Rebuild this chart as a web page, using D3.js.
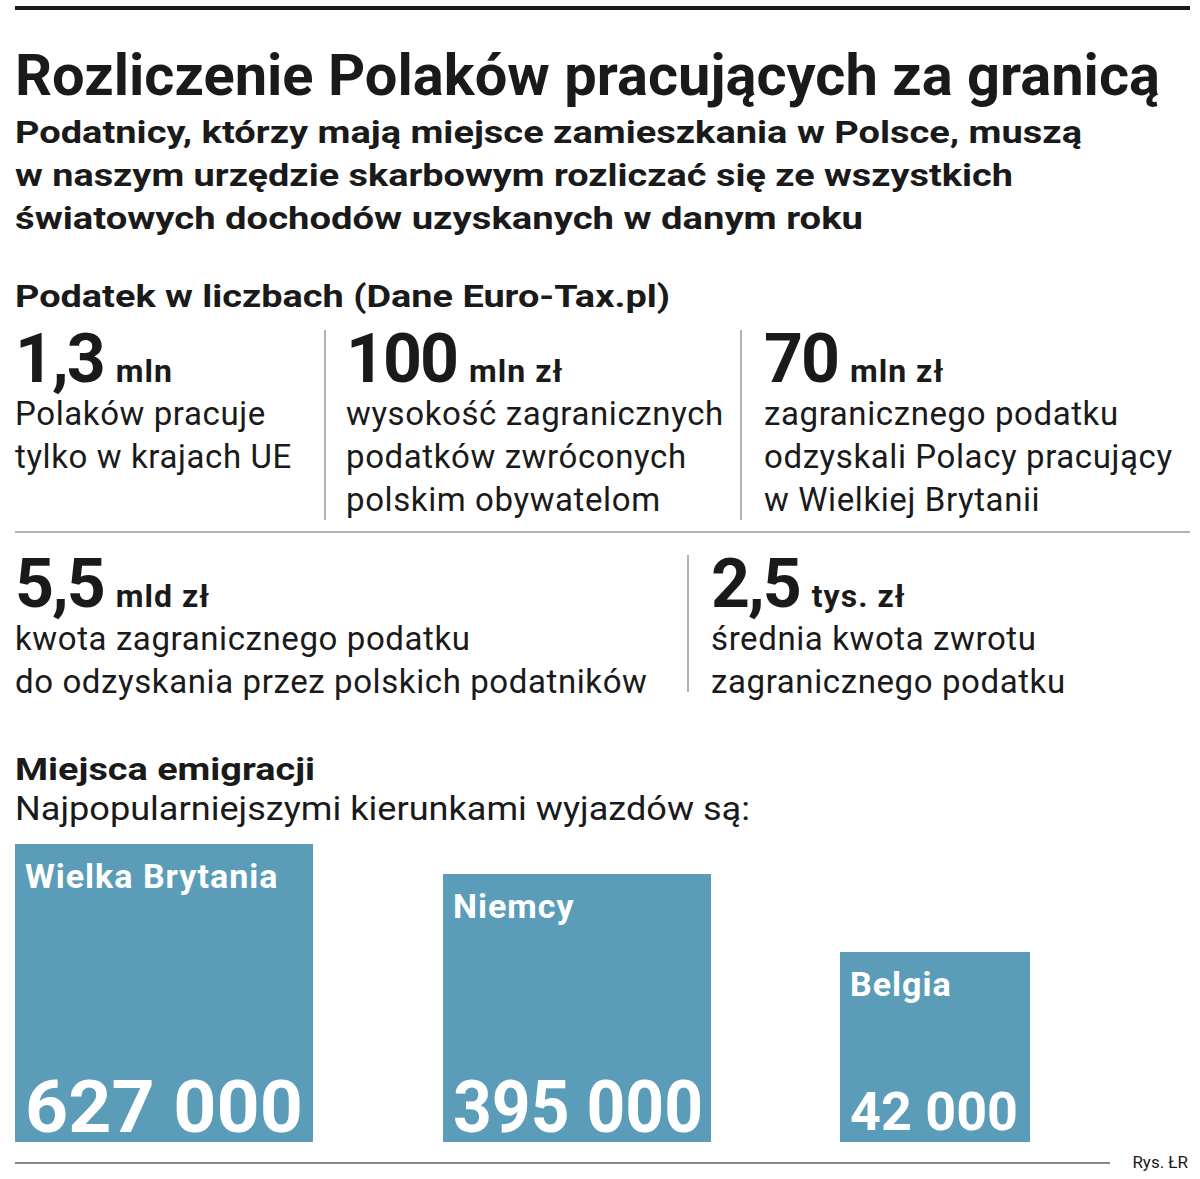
<!DOCTYPE html>
<html><head><meta charset="utf-8">
<script src="https://cdn.jsdelivr.net/npm/d3@7"></script>
<style>body{margin:0;background:#fff}text{font-family:Roboto,"Open Sans",sans-serif}</style>
</head><body><svg id="c" width="1200" height="1179"></svg>
<script>
const countries=["Wielka Brytania","Niemcy","Belgia"];
const emigrants=[627000,395000,42000];
const valueLabels=["627 000","395 000","42 000"];
const statBig=["1,3","100","70","5,5","2,5"];
const statUnit=["mln","mln zł","mln zł","mld zł","tys. zł"];
const statText=[["Polaków pracuje","tylko w krajach UE"],["wysokość zagranicznych","podatków zwróconych","polskim obywatelom"],["zagranicznego podatku","odzyskali Polacy pracujący","w Wielkiej Brytanii"],["kwota zagranicznego podatku","do odzyskania przez polskich podatników"],["średnia kwota zwrotu","zagranicznego podatku"]];
const svg=d3.select("#c");
const ink="#1a1a1a";
svg.append("rect").attr("x",15).attr("y",6).attr("width",1175).attr("height",4).attr("fill",ink);
svg.append("text").attr("x",15).attr("y",95).attr("font-size",58).attr("font-weight",700).attr("fill",ink)
 .attr("textLength",1145).attr("lengthAdjust","spacingAndGlyphs").text("Rozliczenie Polaków pracujących za granicą");
const sub=["Podatnicy, którzy mają miejsce zamieszkania w Polsce, muszą","w naszym urzędzie skarbowym rozliczać się ze wszystkich","światowych dochodów uzyskanych w danym roku"];
const subW=[1067,998,848];
sub.forEach((t,i)=>
 svg.append("text").attr("x",15).attr("y",143+i*43).attr("font-size",31).attr("font-weight",700).attr("fill",ink)
  .attr("textLength",subW[i]).attr("lengthAdjust","spacingAndGlyphs").text(t));
svg.append("text").attr("x",15).attr("y",307).attr("font-size",32).attr("font-weight",700).attr("fill",ink)
 .attr("textLength",655).attr("lengthAdjust","spacingAndGlyphs").text("Podatek w liczbach (Dane Euro-Tax.pl)");
const pos=[[15,382],[346,382],[764,382],[15,607],[711,607]];
statBig.forEach((b,i)=>{
 const [x,y]=pos[i];
 const t=svg.append("text").attr("x",x).attr("y",y).attr("fill",ink).attr("font-weight",700);
 t.append("tspan").attr("font-size",68).attr("letter-spacing",-2).text(b);
 t.append("tspan").attr("font-size",32).attr("dx",12).attr("letter-spacing",1).text(statUnit[i]);
 statText[i].forEach((s,j)=>svg.append("text").attr("x",x).attr("y",y+43+j*43).attr("font-size",33).attr("letter-spacing",0.6).attr("fill",ink).text(s));
});
[[325,330,520],[741,330,520],[688,555,692]].forEach(([x,a,b])=>svg.append("line").attr("x1",x).attr("x2",x).attr("y1",a).attr("y2",b).attr("stroke","#999").attr("stroke-width",1.5));
svg.append("line").attr("x1",15).attr("x2",1190).attr("y1",532).attr("y2",532).attr("stroke","#999").attr("stroke-width",1.5);
svg.append("text").attr("x",15).attr("y",780).attr("font-size",32).attr("font-weight",700).attr("fill",ink).attr("textLength",300).attr("lengthAdjust","spacingAndGlyphs").text("Miejsca emigracji");
svg.append("text").attr("x",15).attr("y",820).attr("font-size",33).attr("fill",ink).attr("textLength",735).attr("lengthAdjust","spacingAndGlyphs").text("Najpopularniejszymi kierunkami wyjazdów są:");
const base=1142;
const side=d3.scaleLinear().domain([42000,395000,627000]).range([190,268,298]);
const xs=d3.scaleOrdinal().domain(countries).range([15,443,840]);
const g=svg.selectAll("g.b").data(countries).enter().append("g");
g.append("rect").attr("x",d=>xs(d)).attr("y",(d,i)=>base-side(emigrants[i])).attr("width",(d,i)=>side(emigrants[i])).attr("height",(d,i)=>side(emigrants[i])).attr("fill","#5b9db8");
g.append("text").attr("x",d=>xs(d)+10).attr("y",(d,i)=>base-side(emigrants[i])+44).attr("font-size",34).attr("font-weight",700).attr("letter-spacing",1).attr("fill","#fff").text(d=>d);
g.append("text").attr("x",d=>xs(d)+10).attr("y",(d,i)=>base-(i==2?12:10)).attr("font-size",(d,i)=>i==2?54:72).attr("font-weight",700)
 .attr("textLength",(d,i)=>[278,250,168][i]).attr("lengthAdjust","spacingAndGlyphs").attr("fill","#fff").text((d,i)=>valueLabels[i]);
svg.append("line").attr("x1",15).attr("x2",1110).attr("y1",1163).attr("y2",1163).attr("stroke","#888").attr("stroke-width",2);
svg.append("text").attr("x",1188).attr("y",1168).attr("text-anchor","end").attr("font-size",17).attr("fill",ink).text("Rys. ŁR");
</script></body></html>
